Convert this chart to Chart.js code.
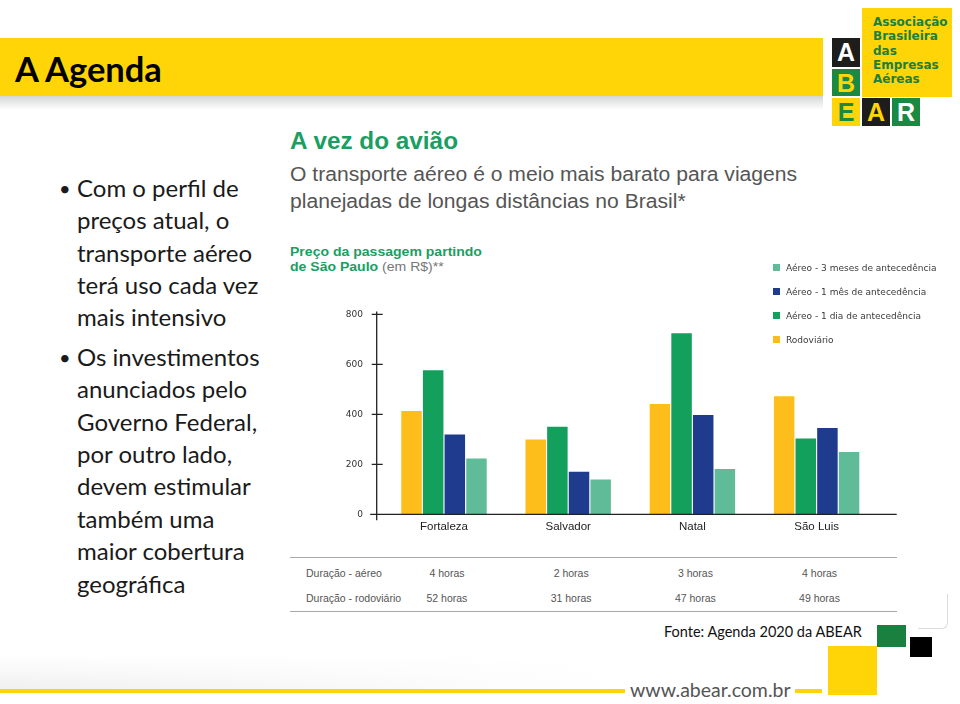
<!DOCTYPE html>
<html>
<head>
<meta charset="utf-8">
<script src="https://cdn.jsdelivr.net/npm/chart.js@4.4.1/dist/chart.umd.min.js"></script>
<style>
  html, body { margin: 0; padding: 0; }
  body { width: 960px; height: 704px; position: relative; overflow: hidden; background: #fff; font-family: Lato, "Open Sans", sans-serif; }
  .abs { position: absolute; white-space: nowrap; }
  #banner { left: 0; top: 38px; width: 823px; height: 58px; background: #FFD507; }
  #shadow { left: 0; top: 96px; width: 823px; height: 14px; background: linear-gradient(#d4d6d6, #ffffff); }
  #htitle { left: 15px; top: 48px; font: bold 34.5px Lato, sans-serif; color: #000; line-height: 42px; }
  .box { position: absolute; font: bold 25px "Liberation Sans", Arial, sans-serif; text-align: center; line-height: 28px; }
  #logoText { left: 873px; top: 15px; font: bold 12px "DejaVu Sans", sans-serif; color: #1c7f3d; line-height: 14.3px; white-space: pre; }
  .para { position: absolute; left: 77px; font: 24px Lato, sans-serif; color: #1a1a1a; line-height: 32.4px; white-space: nowrap; }
  .bullet { position: absolute; left: -18px; top: 0; font-size: 20px; }
  .sx { transform-origin: 0 0; }
  #t1 { left: 290px; top: 128px; font: bold 23px "Liberation Sans", Arial, sans-serif; color: #1a9e62; transform: scaleX(1.057); }
  #t2 { left: 290px; top: 161px; font: 20px "Liberation Sans", Arial, sans-serif; color: #555; line-height: 27px; transform: scaleX(1.056); }
  #t3 { left: 290px; top: 245px; font: bold 13px "Liberation Sans", Arial, sans-serif; color: #1a9e62; line-height: 14.5px; transform: scaleX(1.08); }
  #t3 .g { font-weight: normal; color: #777; }
  #chartBox { position: absolute; left: 330px; top: 290px; width: 590px; height: 250px; }
  #legend { position: absolute; left: 773px; top: 262px; font: 9px "DejaVu Sans", sans-serif; color: #3a3a3a; }
  #legend .it { height: 24px; line-height: 12px; white-space: nowrap; }
  #legend .sq { display: inline-block; width: 7px; height: 7px; margin-right: 6px; }
  .hline { position: absolute; left: 290px; width: 607px; height: 1px; background: #a8a8a8; }
  .tcell { position: absolute; font: 10.5px "Liberation Sans", Arial, sans-serif; color: #555; white-space: nowrap; line-height: 12px; }
  #fonte { left: 664px; top: 622px; font: 14.5px Lato, sans-serif; color: #111; line-height: 20px; }
  #www { left: 630px; top: 678px; font: 19.5px Lato, "Open Sans", sans-serif; color: #555; line-height: 24px; }
</style>
</head>
<body>
<div class="abs" id="banner"></div>
<div class="abs" id="shadow"></div>
<div class="abs" id="htitle">A Agenda</div>

<!-- logo -->
<div class="abs" style="left:862px;top:8px;width:90px;height:89px;background:#FFD507;"></div>
<div id="logoText" class="abs">Associação
Brasileira
das
Empresas
Aéreas</div>
<div class="box" style="left:832px;top:38px;width:28px;height:29px;background:#1d1d1b;color:#fff;">A</div>
<div class="box" style="left:832px;top:69px;width:28px;height:27px;background:#1a8a42;color:#FFD507;">B</div>
<div class="box" style="left:832px;top:98px;width:28px;height:28px;background:#FFD507;color:#1a8a42;">E</div>
<div class="box" style="left:862px;top:98px;width:28px;height:28px;background:#1d1d1b;color:#FFD507;">A</div>
<div class="box" style="left:892px;top:98px;width:28px;height:28px;background:#1a8a42;color:#fff;">R</div>

<!-- left text -->
<div class="para" style="top:171.8px;"><span class="bullet">•</span>Com o perfil de<br>preços atual, o<br>transporte aéreo<br>terá uso cada vez<br>mais intensivo</div>
<div class="para" style="top:340.8px;"><span class="bullet">•</span>Os investimentos<br>anunciados pelo<br>Governo Federal,<br>por outro lado,<br>devem estimular<br>também uma<br>maior cobertura<br>geográfica</div>

<!-- chart graphic texts -->
<div class="abs sx" id="t1">A vez do avião</div>
<div class="abs sx" id="t2">O transporte aéreo é o meio mais barato para viagens<br>planejadas de longas distâncias no Brasil*</div>
<div class="abs sx" id="t3">Preço da passagem partindo<br>de São Paulo <span class="g">(em R$)**</span></div>

<div id="chartBox"><canvas id="c" width="590" height="250"></canvas></div>
<div id="legend"></div>

<div class="hline" style="top:557px;"></div>
<div class="hline" style="top:611px;"></div>
<div id="table"></div>

<!-- footer -->
<div class="abs" style="left:918px;top:594px;width:29px;height:34px;border-right:1px solid #dcdcdc;border-bottom:1px solid #dcdcdc;border-bottom-right-radius:6px;"></div>
<div class="abs" id="fonte">Fonte: Agenda 2020 da ABEAR</div>
<div class="abs" style="left:877px;top:625px;width:29px;height:22px;background:#1a8040;"></div>
<div class="abs" style="left:910px;top:637px;width:22px;height:20px;background:#000;"></div>
<div class="abs" style="left:828px;top:646px;width:49px;height:49px;background:#FFD507;"></div>
<div class="abs" style="left:0;top:655px;width:625px;height:34px;background:linear-gradient(to right, rgba(255,255,255,0) 0%, rgba(255,255,255,1) 100%), linear-gradient(to top, #f0f0f0, #ffffff);"></div>
<div class="abs" style="left:0;top:689px;width:625px;height:4px;background:#FFD507;"></div>
<div class="abs" id="www">www.abear.com.br</div>
<div class="abs" style="left:795px;top:689px;width:27px;height:4px;background:#FFD507;"></div>

<script>
// ---- data ----
const categories = ['Fortaleza', 'Salvador', 'Natal', 'São Luis'];
const seriesLabels = ['Rodoviário', 'Aéreo - 1 dia de antecedência', 'Aéreo - 1 mês de antecedência', 'Aéreo - 3 meses de antecedência'];
const rodoviario = [413, 299, 441, 472];
const aereo1dia = [576, 350, 725, 303];
const aereo1mes = [319, 170, 397, 345];
const aereo3meses = [223, 139, 181, 249];
const yTicks = [0, 200, 400, 600, 800];
const rowLabels = ['Duração - aéreo', 'Duração - rodoviário'];
const duracaoAereo = ['4 horas', '2 horas', '3 horas', '4 horas'];
const duracaoRodoviario = ['52 horas', '31 horas', '47 horas', '49 horas'];

const colors = ['#FDBD1B', '#12A05C', '#1F3B8E', '#60BC98'];
const seriesValues = [rodoviario, aereo1dia, aereo1mes, aereo3meses];

const axesPlugin = {
  id: 'axesPlugin',
  afterDraw(chart) {
    const ctx = chart.ctx, ca = chart.chartArea;
    const ys = chart.scales.y;
    const ax = ca.left - 5.2;
    const y0 = ys.getPixelForValue(0);
    ctx.save();
    ctx.strokeStyle = '#222';
    ctx.lineWidth = 1.3;
    ctx.beginPath();
    ctx.moveTo(ax, ys.getPixelForValue(800) - 3);
    ctx.lineTo(ax, y0 + 6);
    ctx.moveTo(ax - 6.5, y0);
    ctx.lineTo(ca.right + 18, y0);
    yTicks.forEach(v => {
      if (v === 0) return;
      const py = ys.getPixelForValue(v);
      ctx.moveTo(ax - 5, py);
      ctx.lineTo(ax + 6, py);
    });
    ctx.stroke();
    ctx.restore();
  }
};

const chart = new Chart(document.getElementById('c'), {
  type: 'bar',
  data: {
    labels: categories,
    datasets: seriesValues.map((vals, i) => ({
      label: seriesLabels[i],
      data: vals,
      backgroundColor: colors[i],
      borderWidth: 0,
      categoryPercentage: 0.697,
      barPercentage: 0.947
    }))
  },
  options: {
    responsive: false,
    animation: false,
    layout: { padding: { top: 21, right: 41.3, left: 0, bottom: 0 } },
    plugins: { legend: { display: false }, tooltip: { enabled: false } },
    scales: {
      x: {
        grid: { display: false, drawTicks: false },
        border: { display: false },
        ticks: { padding: 6, color: '#222', font: { family: '"Liberation Sans", Arial, sans-serif', size: 11.5 } },
        afterFit: s => { s.height = 25.7; }
      },
      y: {
        min: 0, max: 800,
        afterBuildTicks: s => { s.ticks = yTicks.map(v => ({ value: v })); },
        grid: { display: false, drawTicks: false },
        border: { display: false },
        ticks: { padding: 19, color: '#333', font: { family: '"DejaVu Sans", sans-serif', size: 9 } },
        afterFit: s => { s.width = 51.9; }
      }
    }
  },
  plugins: [axesPlugin]
});

// legend (reverse order, like the original)
const leg = document.getElementById('legend');
chart.data.datasets.slice().reverse().forEach(ds => {
  const d = document.createElement('div');
  d.className = 'it';
  d.innerHTML = '<span class="sq" style="background:' + ds.backgroundColor + '"></span>' + ds.label;
  leg.appendChild(d);
});

// table aligned with the category scale
const tbl = document.getElementById('table');
const box = document.getElementById('chartBox');
const xs = chart.scales.x;
[duracaoAereo, duracaoRodoviario].forEach((row, r) => {
  const top = r === 0 ? 567 : 592;
  const lab = document.createElement('div');
  lab.className = 'tcell';
  lab.style.left = '306px';
  lab.style.top = top + 'px';
  lab.textContent = rowLabels[r];
  tbl.appendChild(lab);
  row.forEach((txt, i) => {
    const c = document.createElement('div');
    c.className = 'tcell';
    c.textContent = txt;
    tbl.appendChild(c);
    const cx = box.offsetLeft + xs.getPixelForValue(i) + 3;
    c.style.left = (cx - c.offsetWidth / 2) + 'px';
    c.style.top = top + 'px';
  });
});
</script>
</body>
</html>
